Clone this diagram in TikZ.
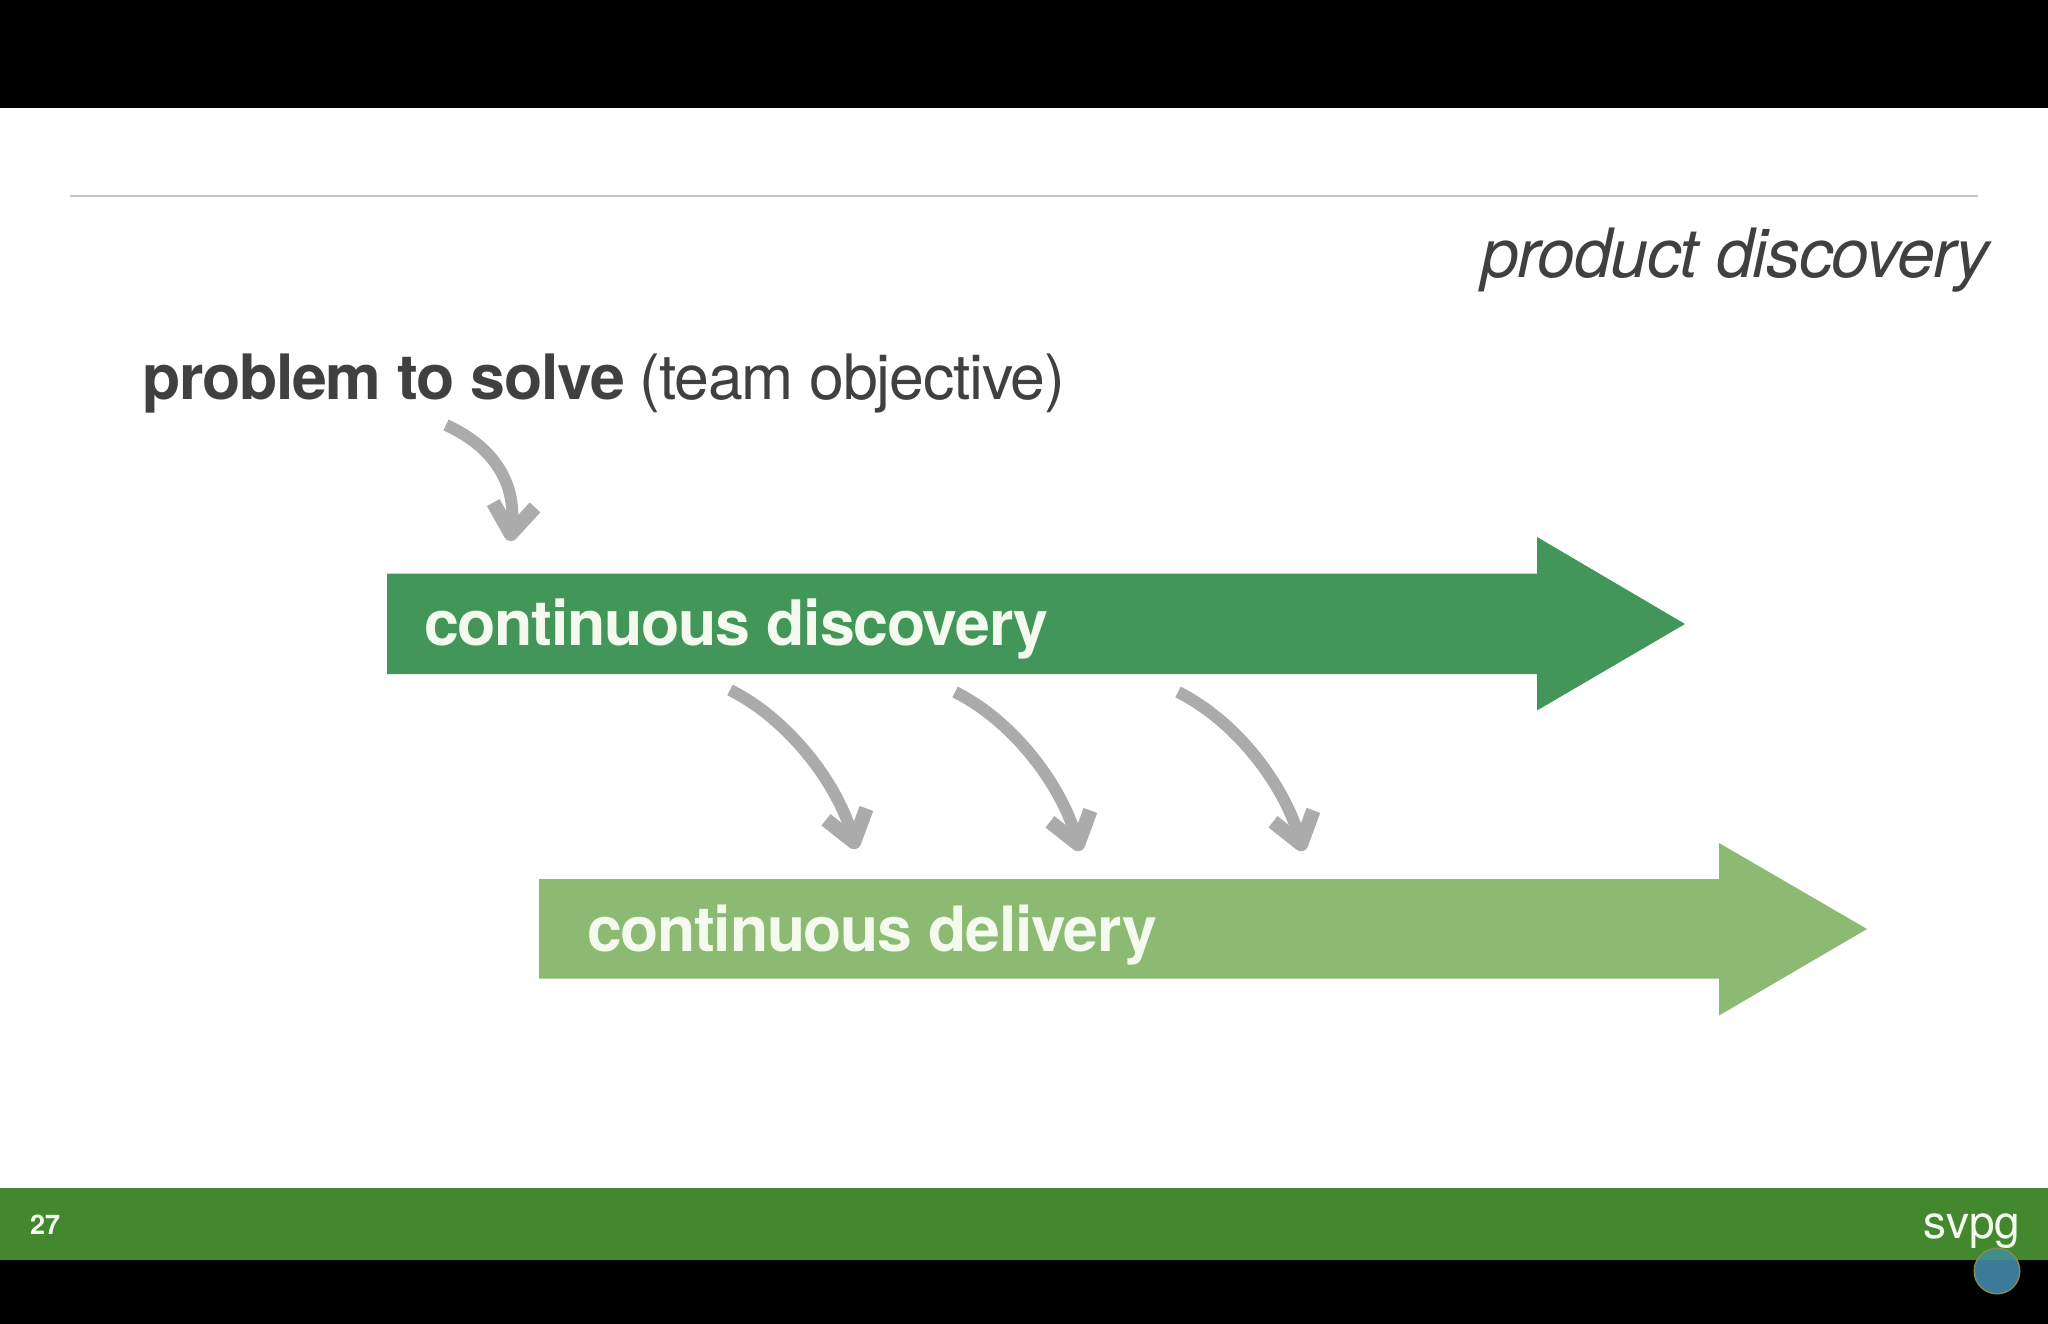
\documentclass[tikz,border=0pt]{standalone}
\usepackage{fontspec}
\setmainfont{TeX Gyre Heros}
\newfontfamily\tightf[LetterSpace=-2.0]{TeX Gyre Heros}
\usetikzlibrary{arrows.meta}
\definecolor{inkdark}{HTML}{404040}
\definecolor{topbar}{HTML}{42965A}
\definecolor{lowbar}{HTML}{8DBA72}
\definecolor{footbar}{HTML}{43882E}
\definecolor{curvegray}{HTML}{ABABAB}
\definecolor{softwhite}{HTML}{F4FAEE}
\definecolor{dotupper}{HTML}{3F8F88}
\definecolor{dotlower}{HTML}{3B7A98}
\definecolor{dotrim}{HTML}{8A8A50}
\tikzset{
  label text/.style={anchor=base west,inner sep=0pt,outer sep=0pt},
  curve arrow/.style={curvegray,line width=12pt,-{Straight Barb[length=29pt,width=42pt,line width=14.5pt,line join=round]}},
}
\begin{document}
\begin{tikzpicture}[x=1pt,y=-1pt]
\useasboundingbox (0,0) rectangle (2048,1324);
\fill[white] (0,0) rectangle (2048,1324);
\fill[black] (0,0) rectangle (2048,108);
\fill[black] (0,1260) rectangle (2048,1324);
\fill[footbar] (0,1187.5) rectangle (2048,1260);
\draw[gray!45,line width=1.2pt] (70,196) -- (1978,196);
% long arrows
\fill[topbar] (387,573.5) -- (1537,573.5) -- (1537,537) -- (1685,624) -- (1537,710.5) -- (1537,674) -- (387,674) -- cycle;
\fill[lowbar] (539,879) -- (1719,879) -- (1719,843) -- (1867,929) -- (1719,1015.5) -- (1719,978.5) -- (539,978.5) -- cycle;
% texts
\node[label text,font=\tightf\itshape\fontsize{68}{68}\selectfont,text=inkdark] (title) at (1481,278) {product discovery};
\node[label text,font=\tightf\fontsize{62.6}{63}\selectfont,text=inkdark] (problem) at (142,399.5) {\textbf{problem to solve} (team objective)};
\node[label text,font=\tightf\bfseries\fontsize{62.7}{63}\selectfont,text=softwhite] (discovery) at (424,645) {continuous discovery};
\node[label text,font=\tightf\bfseries\fontsize{62.5}{63}\selectfont,text=softwhite] (delivery) at (587,951) {continuous delivery};
\node[label text,font=\bfseries\fontsize{27}{27}\selectfont,text=softwhite] (pagenum) at (30,1234) {27};
\node[label text,font=\fontsize{46}{46}\selectfont,text=softwhite] (logo) at (1923,1238) {svpg};
% curved arrows
\coordinate (s1) at (446,425); \coordinate (e1) at (510,541);
\coordinate (s2) at (730,690); \coordinate (e2) at (856,849);
\coordinate (s3) at (955,692); \coordinate (e3) at (1080,851);
\coordinate (s4) at (1178,692); \coordinate (e4) at (1303,851);
\draw[curve arrow] (s1) .. controls (490,445) and (517,480) .. (e1);
\draw[curve arrow] (s2) .. controls (790,720) and (838,785) .. (e2);
\draw[curve arrow] (s3) .. controls (1015,722) and (1062,787) .. (e3);
\draw[curve arrow] (s4) .. controls (1238,722) and (1285,787) .. (e4);
% pointer circle
\fill[dotrim] (1997,1271) circle (23.5);
\begin{scope}
\clip (1960,1180) rectangle (2048,1260);
\fill[dotupper] (1997,1271) circle (22);
\end{scope}
\begin{scope}
\clip (1960,1260) rectangle (2048,1324);
\fill[dotlower] (1997,1271) circle (22);
\end{scope}
\end{tikzpicture}
\end{document}
